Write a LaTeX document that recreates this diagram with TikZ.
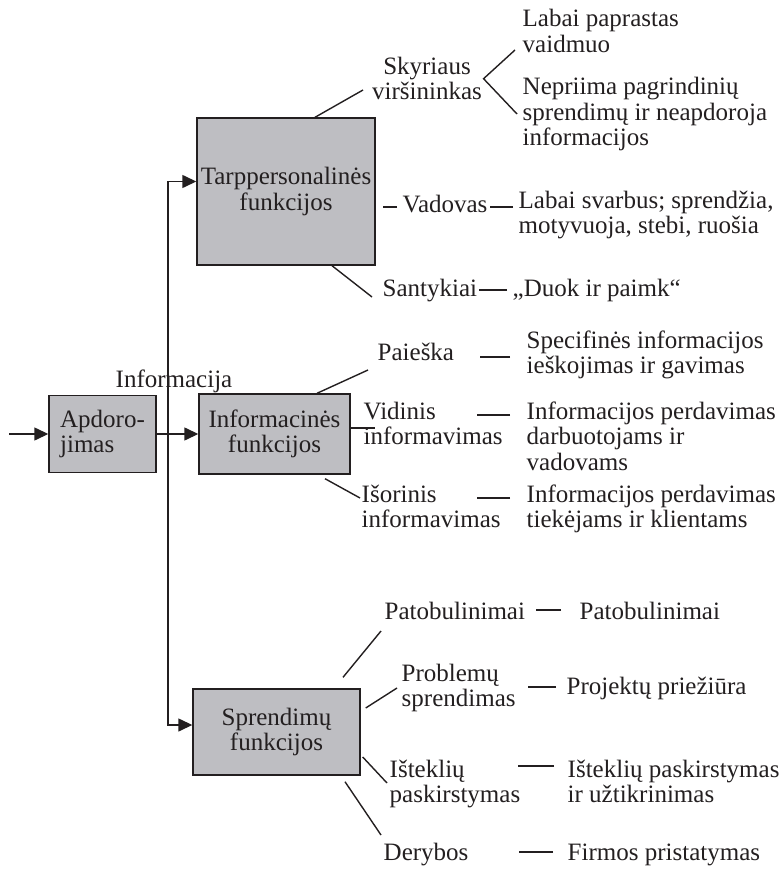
\documentclass[tikz,border=0pt]{standalone}
\usepackage{fontspec}
\setmainfont{Liberation Serif}
\usetikzlibrary{arrows.meta, positioning}
\definecolor{boxgray}{RGB}{190,190,194}
\definecolor{ink}{RGB}{35,31,32}

\begin{document}
\begin{tikzpicture}[x=1pt, y=-1pt, line width=1.4pt, draw=ink,
  box/.style={draw=ink, fill=boxgray, line width=1.4pt, align=center},
  lbl/.style={anchor=base west, align=left},
  feed/.style={-{Triangle[length=14pt, width=13pt]}}]
\tikzstyle{every node}+=[inner sep=0pt, text=ink, font=\fontsize{25}{25.5}\selectfont]
\useasboundingbox (0,0) rectangle (783,869);

% boxes
\node[box, align=left, minimum width=107pt, minimum height=77pt] (apdor) at (102.5,434) {Apdoro-\\jimas};
\node[box, minimum width=178pt, minimum height=147pt] (tarp) at (286,191.5) {Tarppersonalinės\\funkcijos};
\node[box, minimum width=151pt, minimum height=80pt] (info) at (274.5,434) {Informacinės\\funkcijos};
\node[box, minimum width=167pt, minimum height=86pt] (spr) at (276.5,732) {Sprendimų\\funkcijos};
\node[lbl] (infolbl) at (115,387) {Informacija};

% feeds
\coordinate (in) at (9,434);
\coordinate (bus) at (168,434);
\draw[feed] (in) -- (apdor);
\draw[feed] (apdor) -- (info);
\draw[feed] (bus) |- ([yshift=10pt]tarp.west);
\draw[feed] (bus) |- ([yshift=7pt]spr.west);

% tarppersonalines (base = last line of a node)
\node[align=center, anchor=base] (skyr) at (427,100) {Skyriaus\\viršininkas};
\node[lbl] (simple) at (522,52.5) {Labai paprastas\\vaidmuo};
\node[lbl] (nepr) at (522,146) {Nepriima pagrindinių\\sprendimų ir neapdoroja\\informacijos};
\node[lbl] (vad) at (402,212) {Vadovas};
\node[lbl] (svarb) at (518,233.5) {Labai svarbus; sprendžia,\\motyvuoja, stebi, ruošia};
\node[lbl] (sant) at (382,296) {Santykiai};
\node[lbl] (duok) at (512,296) {„Duok ir paimk“};
\coordinate (skyr-in) at (363,90);
\coordinate (sant-in) at (372,297);
\draw ([xshift=29pt]tarp.north) -- (skyr-in);
\draw ([shift={(-7pt,2.5pt)}]simple.base west) -- ([xshift=1pt]skyr.east) -- ([shift={(-5pt,32pt)}]nepr.base west);
\draw ([shift={(-5pt,5pt)}]vad.base west) -- ++(-14,0);
\draw ([shift={(-5pt,26.5pt)}]svarb.base west) -- ++(-23,0);
\draw ([xshift=46pt]tarp.south) -- (sant-in);
\draw ([shift={(-5pt,6pt)}]duok.base west) -- ++(-28,0);

% informacines
\node[lbl] (paiesk) at (377,360) {Paieška};
\node[lbl] (spec) at (526,373.5) {Specifinės informacijos\\ieškojimas ir gavimas};
\node[lbl] (vid) at (363,444.5) {Vidinis\\informavimas};
\node[lbl] (vidperd) at (526,470) {Informacijos perdavimas\\darbuotojams ir\\vadovams};
\node[lbl] (isor) at (361,527.5) {Išorinis\\informavimas};
\node[lbl] (isorperd) at (526,527.5) {Informacijos perdavimas\\tiekėjams ir klientams};
\coordinate (paiesk-in) at (368,370);
\coordinate (vid-in) at (375,428);
\coordinate (isor-in) at (360,498);
\draw ([xshift=42.5pt]info.north) -- (paiesk-in);
\draw ([yshift=6pt]info.east) -- (vid-in);
\draw ([shift={(50.5pt,-4pt)}]info.south) -- (isor-in);
\draw ([shift={(-16pt,16.5pt)}]spec.base west) -- ++(-30,0);
\draw ([shift={(-16pt,55pt)}]vidperd.base west) -- ++(-33,0);
\draw ([shift={(-16pt,29.5pt)}]isorperd.base west) -- ++(-33,0);

% sprendimu
\node[lbl] (patob) at (384,619) {Patobulinimai};
\node[lbl] (patob2) at (579,619) {Patobulinimai};
\node[lbl] (probl) at (401,706.5) {Problemų\\sprendimas};
\node[lbl] (proj) at (566,694) {Projektų priežiūra};
\node[lbl] (istekl) at (389,802.5) {Išteklių\\paskirstymas};
\node[lbl] (istekl2) at (567,802.5) {Išteklių paskirstymas\\ir užtikrinimas};
\node[lbl] (deryb) at (383,860) {Derybos};
\node[lbl] (firm) at (567,860) {Firmos pristatymas};
\coordinate (patob-in) at (381,631);
\coordinate (probl-in) at (397,688);
\coordinate (istekl-in) at (387,783);
\coordinate (deryb-in) at (381,835);
\draw ([shift={(66.5pt,11pt)}]spr.north) -- (patob-in);
\draw ([shift={(5pt,24pt)}]spr.east) -- (probl-in);
\draw ([shift={(2pt,-25pt)}]spr.east) -- (istekl-in);
\draw ([shift={(68.5pt,-6pt)}]spr.south) -- (deryb-in);
\draw ([shift={(-18pt,9pt)}]patob2.base west) -- ++(-25,0);
\draw ([shift={(-10pt,7pt)}]proj.base west) -- ++(-28,0);
\draw ([shift={(-13pt,36.5pt)}]istekl2.base west) -- ++(-36,0);
\draw ([shift={(-14pt,8pt)}]firm.base west) -- ++(-34,0);
\end{tikzpicture}
\end{document}
